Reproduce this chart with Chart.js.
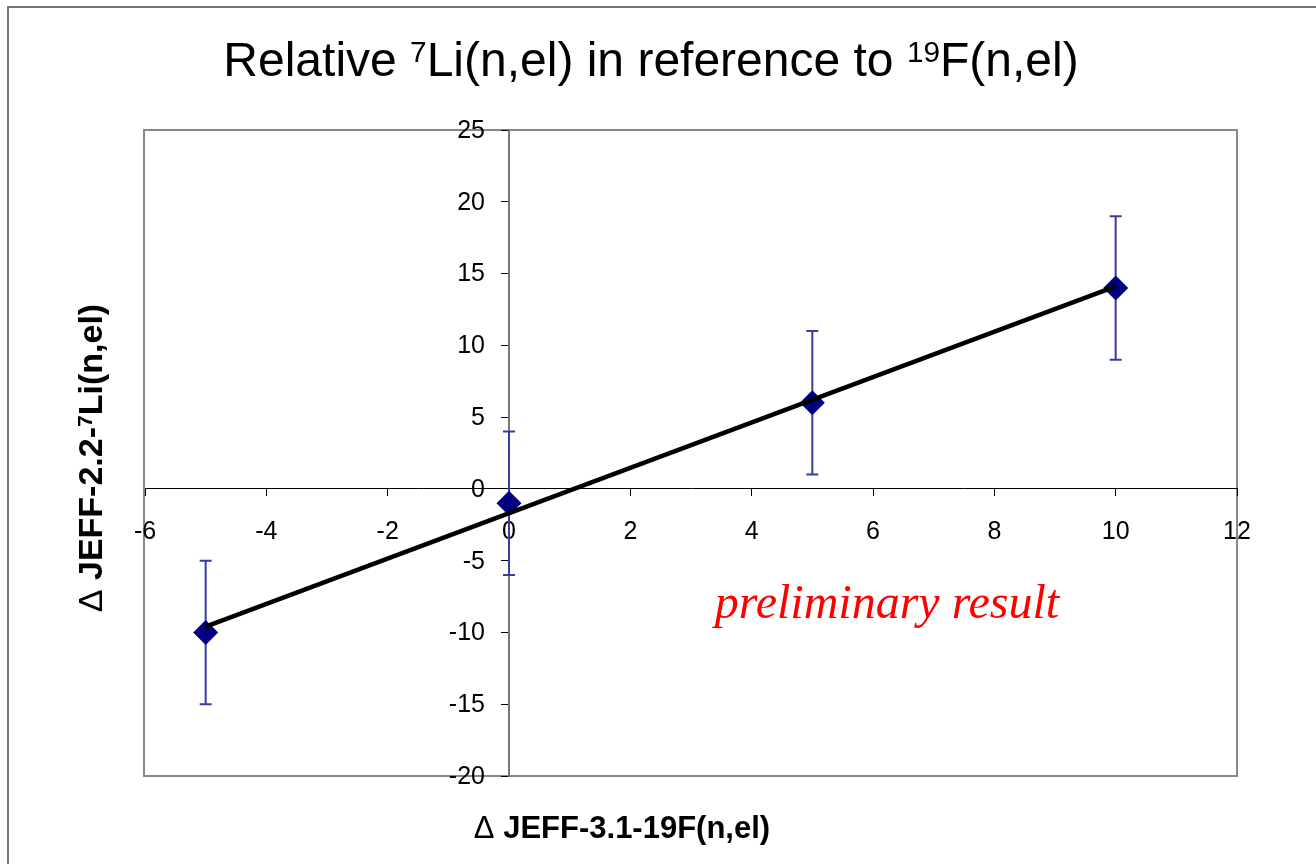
<!DOCTYPE html>
<html>
<head>
<meta charset="utf-8">
<title>Relative 7Li(n,el) in reference to 19F(n,el)</title>
<script src="https://cdn.jsdelivr.net/npm/chart.js@4"></script>
<style>
  html, body { margin: 0; padding: 0; background: #fff; }
  #wrap { width: 1316px; height: 864px; }
</style>
</head>
<body>
<div id="wrap"><canvas id="myChart" width="1316" height="864"></canvas></div>
<script>
// measured points: delta JEFF-3.1 19F(n,el) vs delta JEFF-2.2 7Li(n,el)
var xValues = [-5, 0, 5, 10];
var yValues = [-10, -1, 6, 14];
var yErrors = [5, 5, 5, 5];

// least-squares trend line, end points
var fitX = [-5, 10];
var fitY = [-9.6, 14.1];

var xRange = [-6, 12];
var yRange = [-20, 25];
var xStep = 2;
var yStep = 5;

var puntos = xValues.map(function (v, i) { return { x: v, y: yValues[i] }; });
var recta = fitX.map(function (v, i) { return { x: v, y: fitY[i] }; });

var FAM = '"Liberation Sans", Arial, sans-serif';

// draws text pieces, some of them raised as superscripts
function textoPartes(ctx, partes, x, y, size, bold, align) {
  var fuente = function (p, s) { return ((bold && !p.plain) ? 'bold ' : '') + s + 'px ' + FAM; };
  var total = 0;
  partes.forEach(function (p) {
    p.s = p.sup ? size * 0.62 : size;
    ctx.font = fuente(p, p.s);
    p.w = ctx.measureText(p.t).width;
    total += p.w;
  });
  var cx = align === 'center' ? x - total / 2 : x;
  partes.forEach(function (p) {
    ctx.font = fuente(p, p.s);
    ctx.fillText(p.t, cx, p.sup ? y - size * 0.3 : y);
    cx += p.w;
  });
}

var decorado = {
  id: 'decorado',
  beforeDraw: function (chart) {
    var ctx = chart.ctx, a = chart.chartArea;
    ctx.save();
    // outer frame (only top and left edges fall inside the canvas)
    ctx.strokeStyle = '#777';
    ctx.lineWidth = 2;
    ctx.beginPath();
    ctx.moveTo(8, chart.height);
    ctx.lineTo(8, 7);
    ctx.lineTo(chart.width, 7);
    ctx.stroke();
    // plot area border
    ctx.strokeStyle = '#888';
    ctx.lineWidth = 2;
    ctx.strokeRect(a.left - 1, a.top, a.right - a.left + 1, a.bottom - a.top);
    ctx.restore();
  },
  beforeDatasetsDraw: function (chart) {
    // error bars
    var ctx = chart.ctx, xs = chart.scales.x, ys = chart.scales.y;
    ctx.save();
    ctx.strokeStyle = '#3a3aa6';
    ctx.lineWidth = 2;
    xValues.forEach(function (v, i) {
      var px = xs.getPixelForValue(v);
      var top = ys.getPixelForValue(yValues[i] + yErrors[i]);
      var bot = ys.getPixelForValue(yValues[i] - yErrors[i]);
      ctx.beginPath();
      ctx.moveTo(px, top); ctx.lineTo(px, bot);
      ctx.moveTo(px - 6, top); ctx.lineTo(px + 6, top);
      ctx.moveTo(px - 6, bot); ctx.lineTo(px + 6, bot);
      ctx.stroke();
    });
    ctx.restore();
  },
  afterDraw: function (chart) {
    var ctx = chart.ctx, xs = chart.scales.x, ys = chart.scales.y;

    // y tick labels, left of the axis that crosses at x = 0
    ctx.save();
    ctx.fillStyle = '#000';
    ctx.font = '25px ' + FAM;
    ctx.textAlign = 'right';
    ctx.textBaseline = 'middle';
    var ejeX = xs.getPixelForValue(0);
    ys.ticks.forEach(function (t) {
      ctx.fillText(String(t.value), ejeX - 24, ys.getPixelForValue(t.value) + 1);
    });
    ctx.restore();

    ctx.save();
    ctx.fillStyle = '#000';
    ctx.textBaseline = 'alphabetic';
    textoPartes(ctx, [
      { t: 'Relative ' }, { t: '7', sup: true }, { t: 'Li(n,el) in reference to ' },
      { t: '19', sup: true }, { t: 'F(n,el)' }
    ], 651, 76, 48, false, 'center');

    textoPartes(ctx, [
      { t: '\u0394 ', plain: true }, { t: 'JEFF-3.1-19F(n,el)' }
    ], 622, 838, 31, true, 'center');

    ctx.translate(102, 458);
    ctx.rotate(-Math.PI / 2);
    textoPartes(ctx, [
      { t: '\u0394 ', plain: true }, { t: 'JEFF-2.2-' }, { t: '7', sup: true }, { t: 'Li(n,el)' }
    ], 0, 0, 34, true, 'center');
    ctx.restore();

    ctx.save();
    ctx.fillStyle = '#ff0000';
    ctx.font = 'italic 48px "Liberation Serif", "Times New Roman", serif';
    ctx.textAlign = 'center';
    ctx.fillText('preliminary result', 887, 618);
    ctx.restore();
  }
};

var ctx = document.getElementById('myChart').getContext('2d');
var chart = new Chart(ctx, {
  type: 'scatter',
  data: {
    datasets: [{
      label: 'datos',
      data: puntos,
      pointStyle: 'rectRot',
      pointRadius: 12.5,
      pointHoverRadius: 12.5,
      backgroundColor: '#000080',
      borderColor: '#000080',
      borderWidth: 0,
      order: 2
    }, {
      label: 'ajuste',
      type: 'line',
      data: recta,
      showLine: true,
      borderColor: '#000',
      borderWidth: 4.5,
      pointRadius: 0,
      fill: false,
      order: 1
    }]
  },
  options: {
    responsive: false,
    animation: false,
    events: [],
    layout: { padding: { left: 145, right: 79, top: 130, bottom: 88 } },
    plugins: { legend: { display: false }, tooltip: { enabled: false }, title: { display: false } },
    scales: {
      x: {
        type: 'linear',
        min: xRange[0], max: xRange[1],
        position: { y: 0 },
        afterFit: function (s) { s.height = 0; },
        border: { color: '#000', width: 1 },
        grid: { drawOnChartArea: false, drawTicks: true, tickLength: 7, color: '#000', tickWidth: 1 },
        ticks: { stepSize: xStep, color: '#000', padding: 21, maxRotation: 0, autoSkip: false,
                 font: { family: FAM, size: 25 } }
      },
      y: {
        type: 'linear',
        min: yRange[0], max: yRange[1],
        position: { x: 0 },
        afterFit: function (s) { s.width = 0; },
        border: { color: '#777', width: 2 },
        grid: { drawOnChartArea: false, drawTicks: true, tickLength: 7, color: '#000', tickWidth: 1 },
        ticks: { display: false, stepSize: yStep }
      }
    }
  },
  plugins: [decorado]
});
</script>
</body>
</html>
